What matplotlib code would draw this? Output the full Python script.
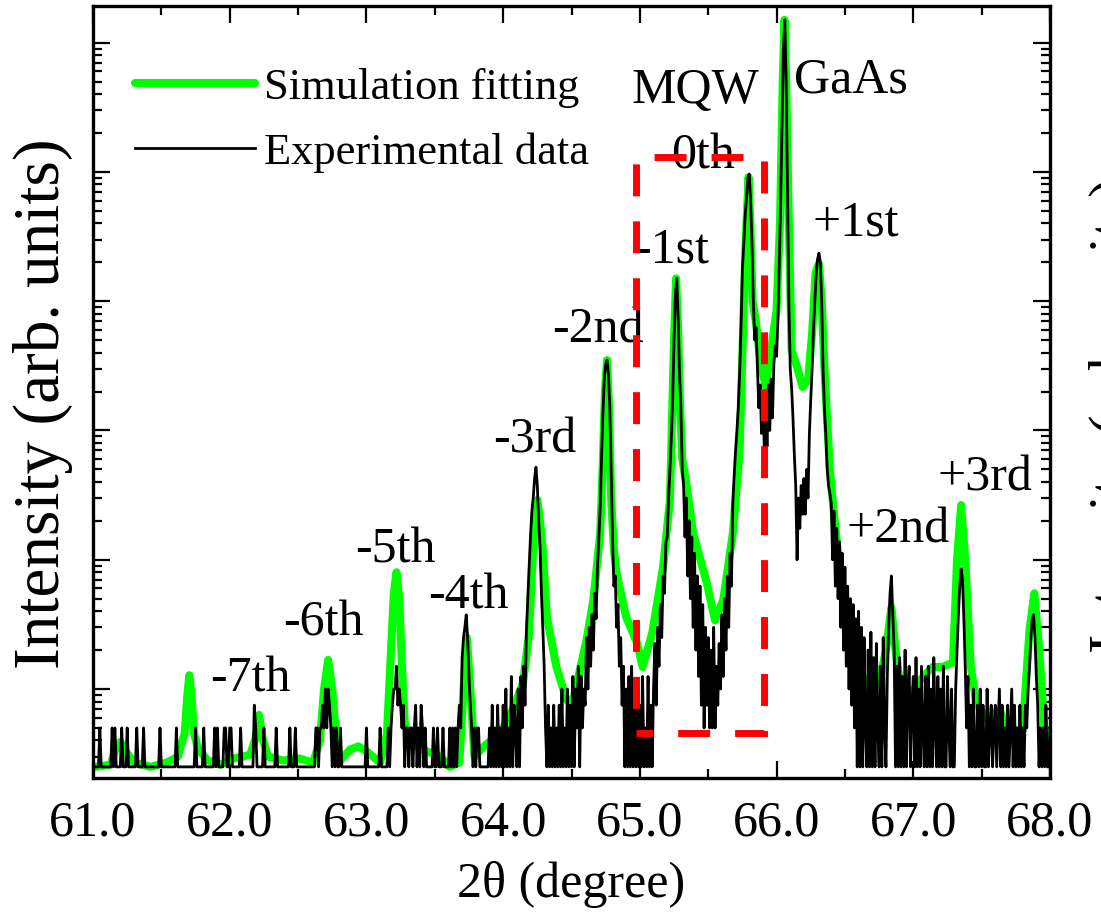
import numpy as np
import matplotlib
matplotlib.use("Agg")
import matplotlib.pyplot as plt
from matplotlib.patches import Rectangle
from matplotlib.ticker import MultipleLocator, LogLocator, NullFormatter, FormatStrFormatter

plt.rcParams['font.family'] = ['Liberation Serif', 'DejaVu Serif']

# measured scan: 61.00-68.00 deg, 0.01 deg step, counts per step
dwell = 4.0  # seconds per step
exp_counts = [
    1, 1, 1, 1, 1, 2, 1, 1, 1, 1,  # 61.0
    1, 1, 1, 1, 2, 1, 2, 1, 1, 1,  # 61.1
    1, 2, 1, 1, 1, 2, 1, 1, 1, 1,  # 61.2
    1, 1, 2, 1, 1, 1, 1, 2, 1, 1,  # 61.3
    1, 1, 1, 1, 1, 1, 1, 1, 1, 2,  # 61.4
    1, 1, 1, 1, 1, 1, 1, 1, 1, 1,  # 61.5
    1, 2, 1, 1, 1, 1, 1, 1, 1, 1,  # 61.6
    1, 1, 1, 1, 1, 2, 1, 1, 1, 1,  # 61.7
    1, 2, 1, 1, 1, 1, 1, 1, 1, 2,  # 61.8
    1, 2, 1, 1, 1, 1, 2, 2, 1, 1,  # 61.9
    2, 2, 1, 1, 1, 1, 1, 1, 2, 1,  # 62.0
    1, 1, 1, 1, 1, 1, 1, 1, 3, 2,  # 62.1
    1, 1, 1, 1, 1, 2, 1, 1, 1, 1,  # 62.2
    1, 1, 1, 1, 2, 1, 1, 1, 1, 1,  # 62.3
    1, 1, 1, 1, 2, 1, 1, 1, 2, 1,  # 62.4
    1, 1, 1, 1, 1, 1, 1, 1, 1, 1,  # 62.5
    1, 1, 1, 2, 2, 1, 2, 2, 3, 2,  # 62.6
    4, 2, 4, 3, 2, 1, 2, 1, 2, 1,  # 62.7
    1, 2, 1, 1, 1, 1, 1, 1, 1, 1,  # 62.8
    1, 1, 1, 1, 1, 1, 1, 1, 1, 1,  # 62.9
    2, 1, 1, 1, 1, 1, 1, 1, 1, 1,  # 63.0
    2, 1, 1, 1, 1, 1, 2, 1, 2, 3,  # 63.1
    4, 4, 6, 3, 4, 3, 2, 3, 1, 2,  # 63.2
    2, 1, 2, 2, 1, 2, 3, 1, 2, 1,  # 63.3
    3, 2, 1, 2, 1, 1, 1, 1, 1, 2,  # 63.4
    1, 1, 2, 1, 1, 1, 2, 1, 1, 1,  # 63.5
    1, 2, 1, 2, 1, 2, 1, 2, 3, 2,  # 63.6
    7, 10, 12, 15, 10, 5, 3, 2, 1, 2,  # 63.7
    1, 2, 2, 1, 1, 1, 1, 1, 1, 1,  # 63.8
    2, 1, 3, 1, 2, 1, 3, 1, 2, 1,  # 63.9
    3, 1, 4, 1, 2, 1, 5, 1, 3, 2,  # 64.0
    1, 4, 1, 5, 2, 6, 3, 11, 20, 35,  # 64.1
    60, 95, 120, 170, 208, 150, 80, 50, 22, 12,  # 64.2
    6, 2, 1, 3, 1, 2, 1, 3, 1, 2,  # 64.3
    1, 3, 1, 4, 1, 2, 1, 4, 1, 3,  # 64.4
    1, 5, 1, 4, 2, 6, 1, 5, 2, 4,  # 64.5
    3, 10, 4, 12, 6, 15, 8, 22, 14, 35,  # 64.6
    60, 100, 250, 550, 1000, 1300, 1400, 1100, 600, 200,  # 64.7
    60, 25, 30, 12, 18, 6, 10, 3, 6, 1,  # 64.8
    4, 1, 5, 1, 6, 1, 3, 1, 4, 1,  # 64.9
    3, 1, 5, 1, 2, 1, 5, 1, 3, 1,  # 65.0
    4, 9, 3, 12, 6, 18, 10, 30, 22, 55,  # 65.1
    60, 120, 200, 350, 700, 2000, 4500, 6000, 3000, 1100,  # 65.2
    600, 200, 150, 60, 120, 30, 80, 20, 60, 12,  # 65.3
    45, 8, 30, 5, 25, 3, 18, 2, 12, 3,  # 65.4
    10, 2, 8, 2, 12, 2, 6, 3, 9, 4,  # 65.5
    15, 5, 20, 8, 30, 12, 45, 25, 110, 180,  # 65.6
    280, 400, 600, 1100, 2500, 7000, 11000, 18000, 25000, 36000,  # 65.7
    38500, 24000, 11000, 4000, 2000, 2500, 1200, 600, 900, 380,  # 65.8
    700, 300, 800, 300, 900, 400, 1000, 500, 1300, 1800,  # 65.9
    1500, 3000, 8000, 25000, 90000, 350000, 600000, 200000, 30000, 4000,  # 66.0
    1200, 850, 500, 260, 150, 40, 120, 70, 150, 90,  # 66.1
    170, 90, 200, 120, 375, 700, 1200, 2500, 4000, 6500,  # 66.2
    8500, 9400, 8000, 4000, 1200, 600, 375, 206, 150, 130,  # 66.3
    110, 40, 95, 25, 70, 20, 55, 12, 45, 8,  # 66.4
    35, 6, 25, 4, 20, 3, 18, 2, 14, 1,  # 66.5
    16, 1, 12, 1, 10, 2, 1, 8, 1, 11,  # 66.6
    1, 7, 1, 9, 2, 1, 6, 1, 10, 2,  # 66.7
    1, 5, 12, 22, 30, 15, 8, 1, 6, 1,  # 66.8
    7, 1, 5, 1, 8, 1, 4, 6, 1, 3,  # 66.9
    5, 1, 7, 1, 4, 1, 6, 2, 1, 5,  # 67.0
    1, 6, 1, 4, 1, 7, 2, 1, 5, 1,  # 67.1
    4, 1, 6, 1, 1, 5, 2, 1, 4, 1,  # 67.2
    1, 4, 8, 15, 25, 34, 28, 14, 6, 2,  # 67.3
    5, 1, 3, 1, 4, 1, 1, 3, 1, 4,  # 67.4
    1, 3, 1, 1, 4, 1, 2, 3, 1, 2,  # 67.5
    3, 1, 2, 4, 1, 3, 1, 2, 1, 3,  # 67.6
    1, 2, 4, 1, 3, 1, 2, 1, 3, 1,  # 67.7
    2, 1, 3, 2, 4, 6, 10, 14, 15, 10,  # 67.8
    5, 3, 1, 2, 1, 2, 1, 3, 1, 1,  # 67.9
    2,  # 68.0
]
exp_theta = np.round(61.0 + 0.01 * np.arange(len(exp_counts)), 2)

# dynamical-diffraction simulation (intensity, same units as counts / dwell)
sim_theta = [
    61.02, 61.13, 61.16, 61.20, 61.24, 61.30, 61.42, 61.54, 61.62, 61.67,
    61.69, 61.705, 61.72, 61.74, 61.77, 61.84, 61.93, 62.03, 62.15, 62.19,
    62.215, 62.24, 62.28, 62.39, 62.51, 62.61, 62.66, 62.69, 62.72, 62.75,
    62.78, 62.81, 62.88, 62.94, 63.00, 63.10, 63.15, 63.18, 63.20, 63.22,
    63.24, 63.26, 63.28, 63.32, 63.44, 63.54, 63.61, 63.68, 63.71, 63.735,
    63.76, 63.79, 63.86, 63.98, 64.07, 64.145, 64.19, 64.215, 64.235, 64.25,
    64.27, 64.29, 64.32, 64.39, 64.465, 64.51, 64.61, 64.66, 64.71, 64.73,
    64.745, 64.76, 64.775, 64.79, 64.81, 64.83, 64.90, 64.98, 65.02, 65.09,
    65.17, 65.22, 65.235, 65.25, 65.265, 65.28, 65.295, 65.31, 65.34, 65.39,
    65.49, 65.55, 65.61, 65.68, 65.73, 65.75, 65.775, 65.795, 65.81, 65.825,
    65.85, 65.88, 65.92, 65.96, 66.00, 66.025, 66.045, 66.058, 66.07, 66.09,
    66.11, 66.15, 66.19, 66.23, 66.26, 66.285, 66.31, 66.33, 66.35, 66.37,
    66.39, 66.41, 66.44, 66.48, 66.53, 66.58, 66.66, 66.75, 66.80, 66.84,
    66.87, 66.90, 66.97, 67.05, 67.14, 67.21, 67.29, 67.32, 67.35, 67.38,
    67.42, 67.46, 67.53, 67.63, 67.70, 67.80, 67.85, 67.885, 67.92, 67.96,
    68.00,
]
sim_intensity = [
    0.25, 0.26, 0.33, 0.39, 0.33, 0.27, 0.25, 0.27, 0.30, 0.45,
    0.9, 1.28, 0.9, 0.45, 0.34, 0.28, 0.26, 0.29, 0.31, 0.42,
    0.63, 0.42, 0.30, 0.28, 0.29, 0.27, 0.40, 1.0, 1.68, 1.0,
    0.40, 0.28, 0.34, 0.36, 0.33, 0.27, 0.45, 2.0, 5.5, 8.0,
    5.0, 1.5, 0.55, 0.38, 0.33, 0.30, 0.25, 0.27, 1.0, 2.5,
    1.0, 0.30, 0.36, 0.46, 0.69, 1.11, 2.7, 10, 25, 29,
    20, 11.9, 3.6, 1.48, 0.82, 0.80, 2.4, 4.9, 16, 60,
    200, 350, 150, 30, 12, 7.9, 3.6, 2.27, 1.48, 2.7,
    8.8, 29, 120, 500, 1500, 600, 150, 60, 39, 16,
    6.6, 3.4, 4.9, 16, 70, 400, 3000, 9100, 3500, 1000,
    680, 350, 220, 420, 850, 4000, 50000, 150000, 50000, 4000,
    420, 310, 217, 245, 565, 1650, 1950, 1000, 310, 120,
    50, 29, 14, 5.8, 2.4, 1.2, 1.2, 1.1, 2.0, 4.3,
    2.0, 1.17, 0.87, 1.17, 1.48, 1.48, 1.6, 10, 26.5, 10,
    1.5, 0.8, 0.58, 0.69, 0.48, 0.48, 2.86, 5.5, 2.1, 0.48,
    0.32,
]

# satellite / substrate labels: text, left edge (deg), baseline (intensity)
peak_labels = ["MQW", "0th", "GaAs", "-1st", "-2nd", "-3rd", "-4th",
               "-5th", "-6th", "-7th", "+1st", "+2nd", "+3rd"]
label_theta = [64.94, 65.23, 66.13, 64.96, 64.36, 63.93, 63.45,
               62.92, 62.39, 61.86, 66.26, 66.51, 67.18]
label_level = [3.4e4, 1.07e4, 4.1e4, 2.0e3, 483, 67, 4.2,
               9.6, 2.6, 0.95, 3.2e3, 13.5, 34.6]

# MQW region box
box_theta = (64.97, 65.91)
box_level = (0.46, 1.3e4)

fig = plt.figure(figsize=(11.01, 9.15), dpi=100)
ax = fig.add_axes([93 / 1101, 1 - 778 / 915, 957 / 1101, 772 / 915])

ax.plot(sim_theta, sim_intensity, color='#00ff00', lw=5.8,
        solid_capstyle='round', solid_joinstyle='round', zorder=2,
        label='Simulation fitting')
ax.plot(exp_theta, np.array(exp_counts) / dwell, color='black', lw=2.0,
        zorder=3, label='Experimental data')

ax.add_patch(Rectangle((box_theta[0], box_level[0]),
                       box_theta[1] - box_theta[0], box_level[1] - box_level[0],
                       fill=False, edgecolor='#ff0000', lw=5,
                       linestyle=(2.2, (4.6, 3.6)), zorder=5))

for txt, tx, ty in zip(peak_labels, label_theta, label_level):
    ax.text(tx, ty, txt, fontsize=36, ha='left', va='baseline', zorder=4)

ax.set_yscale('log')
ax.set_xlim(61.0, 68.0)
ax.set_ylim(0.205, 1.92e5)

ax.xaxis.set_major_locator(MultipleLocator(1.0))
ax.xaxis.set_minor_locator(MultipleLocator(0.5))
ax.xaxis.set_major_formatter(FormatStrFormatter('%.1f'))
ax.yaxis.set_major_locator(LogLocator(base=10, numticks=20))
ax.yaxis.set_minor_locator(LogLocator(base=10, subs=np.arange(2, 10), numticks=20))
ax.yaxis.set_major_formatter(NullFormatter())
ax.yaxis.set_minor_formatter(NullFormatter())

ax.tick_params(which='both', direction='in', top=True, right=True, width=1.6)
ax.tick_params(which='major', length=12, labelsize=36, pad=16)
ax.tick_params(which='minor', length=6.5)
for s in ax.spines.values():
    s.set_linewidth(2.4)

ax.set_xlabel('2θ (degree)', fontsize=36, labelpad=10)
ax.set_ylabel('Intensity (arb. units)', fontsize=47)
ax.yaxis.set_label_coords(-0.021, 0.485)

ax.legend(loc='upper left', bbox_to_anchor=(0.044, 0.92), frameon=False,
          fontsize=32, handlelength=2.7, handletextpad=0.2,
          labelspacing=0.55, borderpad=0, borderaxespad=0)

# neighbouring panel's axis title, cut by the figure edge
fig.text(1089 / 1101, 1 - 415 / 915, 'Intensity (arb. units)', fontsize=42,
         rotation=90, ha='left', va='center')

fig.savefig('out.png', dpi=100)
